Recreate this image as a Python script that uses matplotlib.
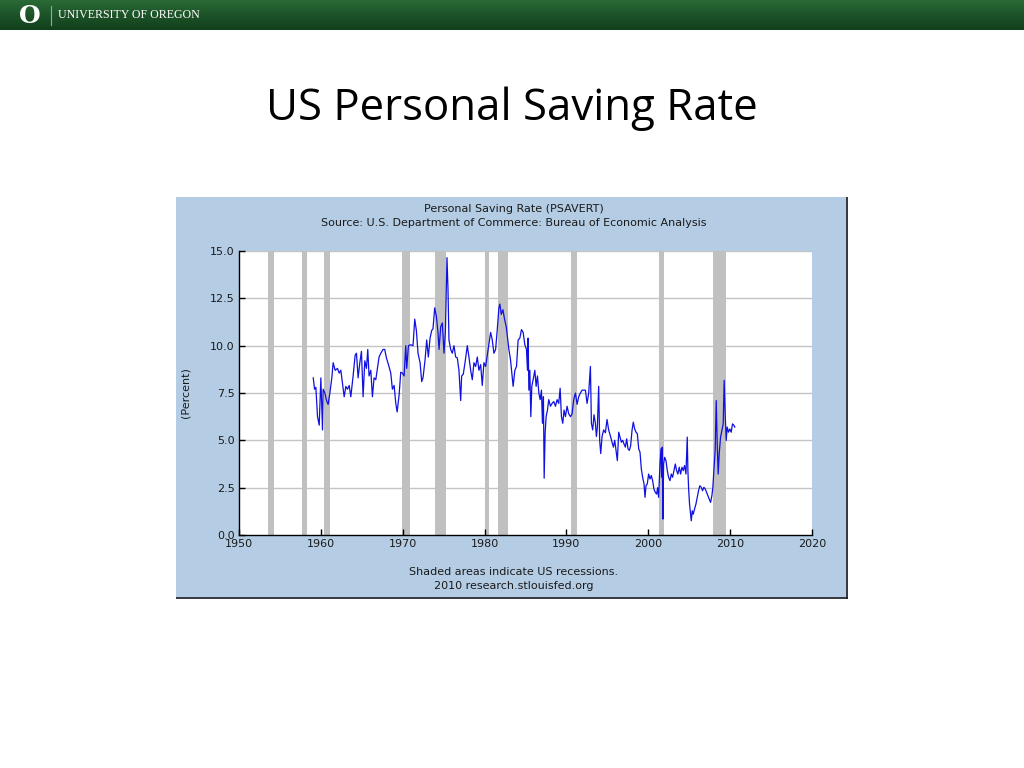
import matplotlib
matplotlib.use("Agg")
import matplotlib.pyplot as plt
import numpy as np
from matplotlib.patches import Rectangle

# Personal saving rate (decimal year, percent)
years = [
    1959.07, 1959.23, 1959.39, 1959.59, 1959.80, 1960.00, 1960.20, 1960.28, 1960.49, 1960.69,
    1960.89, 1961.10, 1961.34, 1961.50, 1961.75, 1962.03, 1962.24, 1962.44, 1962.64, 1962.85,
    1963.05, 1963.25, 1963.46, 1963.66, 1963.94, 1964.19, 1964.35, 1964.55, 1964.76, 1964.96,
    1965.16, 1965.37, 1965.57, 1965.73, 1965.89, 1966.10, 1966.30, 1966.50, 1966.71, 1966.91,
    1967.11, 1967.32, 1967.60, 1967.80, 1968.01, 1968.26, 1968.54, 1968.74, 1968.95, 1969.15,
    1969.32, 1969.56, 1969.76, 1969.97, 1970.17,
    1970.37, 1970.49, 1970.70, 1970.98, 1971.26, 1971.47, 1971.67, 1971.87, 1972.12, 1972.32,
    1972.48, 1972.73, 1972.93, 1973.13, 1973.34, 1973.54, 1973.70, 1973.91, 1974.11, 1974.31,
    1974.44, 1974.64, 1974.84, 1975.04, 1975.21, 1975.33, 1975.41, 1975.53, 1975.65, 1975.86,
    1976.06, 1976.26, 1976.47, 1976.67, 1976.87, 1977.08, 1977.20, 1977.40, 1977.61, 1977.89,
    1978.09, 1978.30, 1978.50, 1978.70, 1978.91, 1979.11, 1979.31, 1979.52, 1979.72, 1979.92,
    1980.13, 1980.33, 1980.53, 1980.74, 1980.94, 1981.14, 1981.35, 1981.55, 1981.75, 1981.87,
    1982.04, 1982.24, 1982.44, 1982.65,
    1982.97, 1983.17, 1983.37, 1983.49, 1983.70, 1983.90, 1984.10, 1984.31, 1984.51, 1984.71,
    1984.92, 1985.12, 1985.24, 1985.32, 1985.41, 1985.53, 1985.65, 1985.77, 1985.93, 1986.14,
    1986.30, 1986.46, 1986.63, 1986.79, 1986.95, 1987.07, 1987.19, 1987.28, 1987.40, 1987.52,
    1987.68, 1987.84, 1988.05, 1988.25, 1988.45, 1988.66, 1988.86, 1989.06, 1989.23, 1989.39,
    1989.55, 1989.71, 1989.88, 1990.08, 1990.28, 1990.49, 1990.69, 1990.89, 1991.10, 1991.30,
    1991.50, 1991.71, 1991.91, 1992.11, 1992.32, 1992.52, 1992.72, 1992.93, 1993.05, 1993.21,
    1993.37, 1993.54, 1993.66, 1993.78, 1993.94, 1994.06, 1994.19, 1994.35, 1994.55, 1994.76,
    1994.96, 1995.16,
    1995.41, 1995.57, 1995.74, 1995.90, 1996.06, 1996.22, 1996.39, 1996.55, 1996.71, 1996.87,
    1997.04, 1997.20, 1997.36, 1997.52, 1997.69, 1997.85, 1998.01, 1998.17, 1998.34, 1998.50,
    1998.66, 1998.83, 1998.99, 1999.15, 1999.31, 1999.48, 1999.60, 1999.72, 1999.88, 2000.04,
    2000.21, 2000.37, 2000.53, 2000.69, 2000.86, 2001.02, 2001.14, 2001.26, 2001.43, 2001.55,
    2001.63, 2001.71, 2001.79, 2001.87, 2002.00, 2002.16, 2002.32, 2002.48, 2002.65, 2002.81,
    2002.97, 2003.13, 2003.30, 2003.46, 2003.62, 2003.78, 2003.95, 2004.11, 2004.27, 2004.43,
    2004.60, 2004.76, 2004.84, 2004.92, 2005.04, 2005.17, 2005.25, 2005.37, 2005.49, 2005.65,
    2005.82, 2005.98, 2006.14, 2006.30, 2006.47, 2006.63, 2006.79, 2006.96, 2007.12, 2007.28,
    2007.44, 2007.61, 2007.77, 2007.89, 2008.01, 2008.17, 2008.30, 2008.42, 2008.54, 2008.66,
    2008.83, 2008.99, 2009.15, 2009.27, 2009.39, 2009.52, 2009.64, 2009.80, 2009.96, 2010.13,
    2010.29, 2010.45, 2010.57,
]
saving_rate = [
    8.3, 7.7, 7.8, 6.26, 5.8, 8.3, 5.55, 7.7, 7.5, 7.1,
    6.9, 7.5, 8.3, 9.1, 8.7, 8.8, 8.55, 8.7, 8.0, 7.3,
    7.85, 7.7, 7.9, 7.3, 8.4, 9.5, 9.6, 8.3, 9.1, 9.7,
    7.3, 9.2, 8.8, 9.8, 8.4, 8.7, 7.3, 8.3, 8.2, 8.8,
    9.4, 9.6, 9.8, 9.8, 9.35, 9.0, 8.55, 7.7, 7.9, 6.97,
    6.5, 7.4, 8.6, 8.55, 8.4,
    10.0, 8.8, 10.0, 10.05, 10.0, 11.4, 10.8, 9.6, 9.1, 8.1,
    8.3, 9.25, 10.3, 9.4, 10.4, 10.8, 10.9, 12.0, 11.55, 10.7,
    9.8, 11.0, 11.2, 9.6, 10.7, 13.0, 14.65, 13.0, 10.3, 9.8,
    9.6, 10.0, 9.4, 9.35, 8.7, 7.1, 8.4, 8.5, 9.1, 10.0,
    9.4, 8.7, 8.2, 9.1, 8.9, 9.4, 8.7, 9.0, 7.9, 9.1,
    8.9, 9.5, 10.1, 10.7, 10.3, 9.6, 9.8, 10.85, 12.0, 12.2,
    11.65, 11.9, 11.4, 11.0,
    9.8, 9.25, 8.4, 7.85, 8.7, 8.9, 10.3, 10.4, 10.85, 10.7,
    10.05, 9.8, 8.7, 10.4, 7.65, 8.7, 6.25, 7.85, 8.2, 8.7,
    7.85, 8.4, 7.5, 7.15, 7.65, 5.9, 7.3, 3.0, 5.4, 6.25,
    6.6, 7.15, 6.8, 6.95, 7.05, 6.8, 7.15, 6.95, 7.75, 6.25,
    5.9, 6.6, 6.25, 6.8, 6.4, 6.25, 6.4, 7.15, 7.5, 6.9,
    7.3, 7.5, 7.65, 7.65, 7.65, 6.95, 7.5, 8.9, 5.9, 5.55,
    6.35, 5.9, 5.2, 5.7, 7.85, 5.0, 4.3, 5.2, 5.55, 5.4,
    6.1, 5.55,
    5.17, 4.9, 4.64, 5.0, 4.47, 3.93, 5.43, 5.17, 4.9, 5.0,
    4.8, 4.64, 5.08, 4.55, 4.47, 4.73, 5.52, 5.96, 5.6, 5.43,
    5.35, 4.55, 4.37, 3.49, 3.05, 2.7, 1.99, 2.6, 2.7, 3.22,
    2.96, 3.14, 2.87, 2.43, 2.25, 2.16, 2.5, 1.99, 3.75, 4.55,
    3.05, 4.64, 0.84, 3.75, 4.1, 3.93, 3.4, 3.05, 2.87, 3.22,
    3.05, 3.4, 3.75, 3.4, 3.22, 3.58, 3.22, 3.58, 3.4, 3.67,
    3.22, 5.17, 3.4, 2.52, 1.63, 1.1, 0.75, 1.28, 1.1, 1.37,
    1.63, 1.99, 2.34, 2.6, 2.52, 2.34, 2.52, 2.43, 2.25, 2.08,
    1.9, 1.72, 2.08, 2.52, 3.4, 4.47, 7.1, 4.8, 3.22, 4.28,
    5.17, 5.52, 5.87, 8.17, 6.4, 4.99, 5.7, 5.43, 5.6, 5.43,
    5.87, 5.8, 5.7,
]

# US recessions (start, end)
rec_start = [1953.58, 1957.67, 1960.33, 1969.92, 1973.92, 1980.08, 1981.58, 1990.58, 2001.25, 2007.92]
rec_end = [1954.33, 1958.33, 1961.08, 1970.92, 1975.25, 1980.58, 1982.92, 1991.25, 2001.92, 2009.50]

x_ticks = [1950, 1960, 1970, 1980, 1990, 2000, 2010, 2020]
y_ticks = [0.0, 2.5, 5.0, 7.5, 10.0, 12.5, 15.0]

W, H = 1024, 768
fig = plt.figure(figsize=(W / 100, H / 100), dpi=100)
fig.patch.set_facecolor("white")


def box(x0, y0, x1, y1):
    # pixel box (top-left origin) -> figure rect
    return [x0 / W, 1 - y1 / H, (x1 - x0) / W, (y1 - y0) / H]


# header bar
hdr = fig.add_axes(box(0, 0, W, 30))
grad = np.linspace(0, 1, 30).reshape(-1, 1)
hdr.imshow(grad, aspect="auto", cmap=matplotlib.colors.LinearSegmentedColormap.from_list(
    "g", ["#2a6a36", "#1d5328", "#12401c"]), extent=[0, W, 30, 0])
hdr.set_xlim(0, W)
hdr.set_ylim(30, 0)
hdr.axis("off")
hdr.text(30, 16, "O", color="white", fontsize=18, fontweight="bold", family="DejaVu Serif",
         ha="center", va="center")
hdr.plot([51, 51], [6, 25], color="#8fae94", lw=0.8)
hdr.text(58, 15.5, "UNIVERSITY OF OREGON", color="white", fontsize=8.6, family="Liberation Serif",
         ha="left", va="center")

# slide title
fig.text(512 / W, 1 - 109 / H, "US Personal Saving Rate", fontsize=31.5, family="Open Sans",
         ha="center", va="center", color="black")

# chart panel background
bg = fig.add_axes(box(176, 197, 848, 599))
bg.set_xlim(0, 1)
bg.set_ylim(0, 1)
bg.add_patch(Rectangle((0, 0), 1, 1, facecolor="#b4cde4", edgecolor="none"))
bg.plot([0, 1], [0.002, 0.002], color="#202020", lw=1.2)
bg.plot([0.998, 0.998], [0, 1], color="#202020", lw=1.2)
bg.axis("off")

ax = fig.add_axes(box(239, 251, 812, 535))
ax.set_facecolor("white")
for s, e in zip(rec_start, rec_end):
    ax.axvspan(s, e, color="#c0c0c0", lw=0, zorder=1)
for yv in y_ticks[1:]:
    ax.axhline(yv, color="#c4c4c4", lw=1, zorder=0.5)
ax.plot(years, saving_rate, color="#1010e0", lw=0.9, zorder=3)

ax.set_xlim(1950, 2020)
ax.set_ylim(0, 15)
ax.set_xticks(x_ticks)
ax.set_yticks(y_ticks)
ax.set_yticklabels(["%.1f" % v for v in y_ticks])
ax.tick_params(direction="in", length=4, width=1, labelsize=8, colors="black",
               labelcolor="#1a1a1a", pad=3)
for side in ["top", "right"]:
    ax.spines[side].set_visible(False)
for side in ["left", "bottom"]:
    ax.spines[side].set_linewidth(1)
ax.set_ylabel("(Percent)", fontsize=8, labelpad=14, color="#1a1a1a")

fig.text(514 / W, 1 - 209 / H, "Personal Saving Rate (PSAVERT)", fontsize=8,
         ha="center", va="center", color="#1a1a1a")
fig.text(514 / W, 1 - 223 / H, "Source: U.S. Department of Commerce: Bureau of Economic Analysis",
         fontsize=8, ha="center", va="center", color="#1a1a1a")
fig.text(514 / W, 1 - 572 / H, "Shaded areas indicate US recessions.", fontsize=8,
         ha="center", va="center", color="#1a1a1a")
fig.text(514 / W, 1 - 586 / H, "2010 research.stlouisfed.org", fontsize=8,
         ha="center", va="center", color="#1a1a1a")

fig.savefig("out.png", dpi=100)
